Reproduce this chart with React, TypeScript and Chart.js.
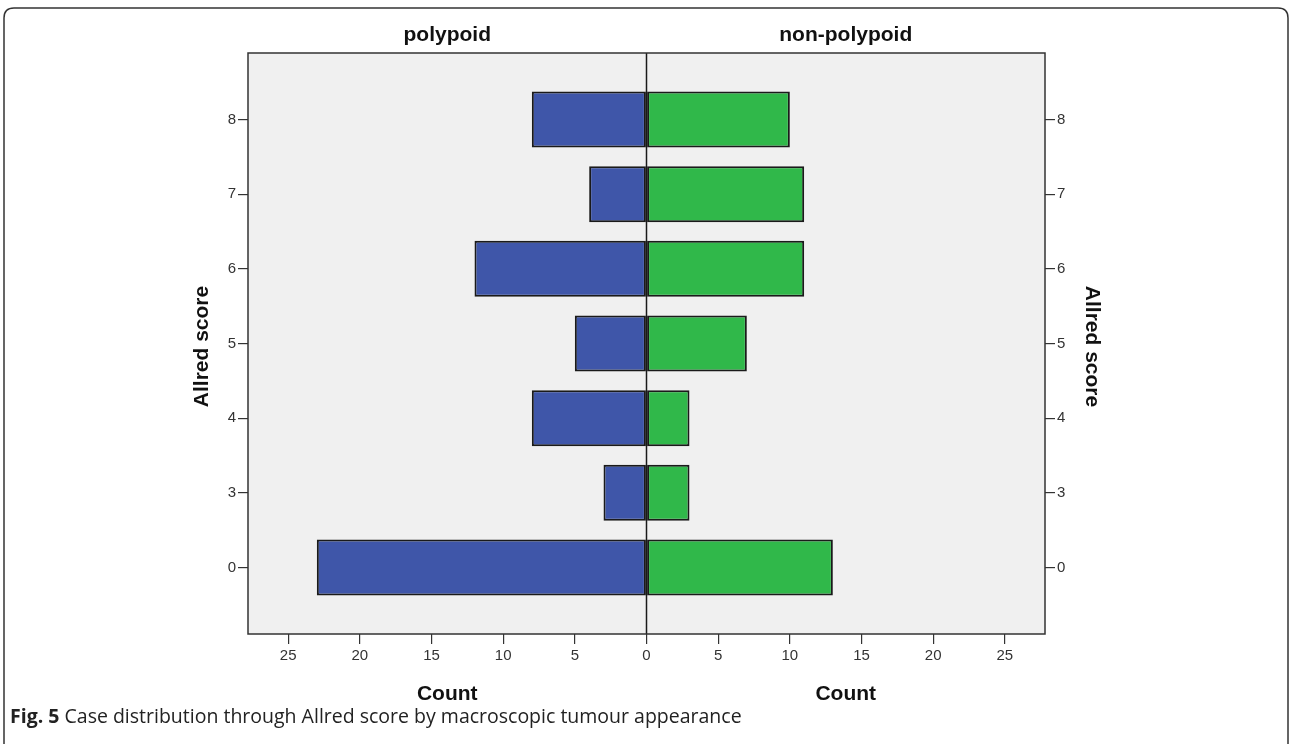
import React, { useEffect, useRef } from "react";
import { Chart, registerables } from "chart.js";

Chart.register(...registerables);

const categories = ["0", "3", "4", "5", "6", "7", "8"];
const polypoid = [23, 3, 8, 5, 12, 4, 8];
const nonPolypoid = [13, 3, 3, 7, 11, 11, 10];
const xTicks = [-25, -20, -15, -10, -5, 0, 5, 10, 15, 20, 25];

const W = 1290;
const H = 744;
const FONT = "'Liberation Sans', Arial, sans-serif";

const decor = {
  id: "decor",
  beforeDraw(chart: any) {
    const { ctx, chartArea: a } = chart;
    ctx.save();
    ctx.fillStyle = "#ffffff";
    ctx.fillRect(0, 0, W, H);
    // rounded frame
    ctx.strokeStyle = "#333333";
    ctx.lineWidth = 1.5;
    const x0 = 4, y0 = 8, x1 = 1288, y1 = 760, r = 10;
    ctx.beginPath();
    ctx.moveTo(x0, y1);
    ctx.lineTo(x0, y0 + r);
    ctx.quadraticCurveTo(x0, y0, x0 + r, y0);
    ctx.lineTo(x1 - r, y0);
    ctx.quadraticCurveTo(x1, y0, x1, y0 + r);
    ctx.lineTo(x1, y1);
    ctx.stroke();
    ctx.fillStyle = "#f0f0f0";
    ctx.fillRect(a.left, a.top, a.right - a.left, a.bottom - a.top);
    ctx.restore();
  },
  afterDatasetsDraw(chart: any) {
    const { ctx, chartArea: a, scales } = chart;
    const cx = scales.x.getPixelForValue(0);
    ctx.save();
    ctx.strokeStyle = "#1a1a1a";
    ctx.lineWidth = 1.5;
    ctx.beginPath();
    ctx.moveTo(cx, a.top);
    ctx.lineTo(cx, a.bottom);
    ctx.stroke();
    ctx.strokeStyle = "#333333";
    ctx.strokeRect(a.left, a.top, a.right - a.left, a.bottom - a.top);
    ctx.restore();
  },
  afterDraw(chart: any) {
    const { ctx, chartArea: a, scales } = chart;
    const cx = scales.x.getPixelForValue(0);
    const midL = (a.left + cx) / 2;
    const midR = (cx + a.right) / 2;
    ctx.save();
    ctx.fillStyle = "#111111";
    ctx.font = `bold 21px ${FONT}`;
    ctx.textAlign = "center";
    ctx.textBaseline = "alphabetic";
    ctx.fillText("polypoid", midL, 41);
    ctx.fillText("non-polypoid", midR, 41);
    ctx.fillText("Count", midL, 700);
    ctx.fillText("Count", midR, 700);
    const yc = (a.top + a.bottom) / 2 + 3;
    ctx.textBaseline = "middle";
    ctx.save();
    ctx.translate(202, yc);
    ctx.rotate(-Math.PI / 2);
    ctx.fillText("Allred score", 0, 0);
    ctx.restore();
    ctx.save();
    ctx.translate(1092, yc);
    ctx.rotate(Math.PI / 2);
    ctx.fillText("Allred score", 0, 0);
    ctx.restore();
    // caption
    ctx.textAlign = "left";
    ctx.textBaseline = "alphabetic";
    ctx.fillStyle = "#222222";
    ctx.font = "bold 19.5px 'Open Sans', sans-serif";
    const fig = "Fig. 5";
    ctx.fillText(fig, 10, 723);
    const fw = ctx.measureText(fig + " ").width;
    ctx.font = "19.5px 'Open Sans', sans-serif";
    ctx.fillText("Case distribution through Allred score by macroscopic tumour appearance", 10 + fw, 723);
    ctx.restore();
  },
};

export default function App() {
  const ref = useRef<HTMLCanvasElement | null>(null);
  useEffect(() => {
    if (!ref.current) return;
    const yTickCb = (v: any) => {
      const i = Math.round(Number(v));
      return Math.abs(Number(v) - i) < 1e-6 && categories[i] !== undefined ? categories[i] : "";
    };
    const yScale = (pos: string, width: number) => ({
      type: "linear" as const,
      position: pos,
      min: -0.89,
      max: 6.89,
      offset: false,
      afterBuildTicks: (s: any) => {
        s.ticks = categories.map((_, i) => ({ value: i }));
      },
      afterFit: (s: any) => {
        s.width = width;
      },
      border: { display: false },
      grid: { offset: false, drawOnChartArea: false, drawTicks: true, tickLength: 10, color: "#333333", lineWidth: 1.2 },
      ticks: {
        callback: yTickCb,
        color: "#333333",
        padding: 2,
        font: { family: FONT, size: 15 },
      },
    });
    const chart = new Chart(ref.current, {
      type: "bar",
      data: {
        datasets: [
          {
            label: "polypoid",
            data: polypoid.map((v, i) => ({ x: -v, y: i })),
            backgroundColor: "#3f56a9",
            borderColor: "#1a1a1a",
            borderWidth: 2,
            borderSkipped: false,
          },
          {
            label: "non-polypoid",
            data: nonPolypoid.map((v, i) => ({ x: v, y: i })),
            backgroundColor: "#30b84a",
            borderColor: "#1a1a1a",
            borderWidth: 2,
            borderSkipped: false,
          },
        ],
      },
      options: {
        indexAxis: "y",
        animation: false,
        responsive: false,
        grouped: false,
        categoryPercentage: 1,
        barPercentage: 0.75,
        layout: { padding: { top: 53, left: 0, right: 0, bottom: 0 } },
        plugins: { legend: { display: false }, tooltip: { enabled: false } },
        scales: {
          x: {
            type: "linear",
            min: -27.8,
            max: 27.8,
            afterBuildTicks: (s: any) => {
              s.ticks = xTicks.map((v) => ({ value: v }));
            },
            afterFit: (s: any) => {
              s.height = 110;
            },
            border: { display: false },
            grid: { drawOnChartArea: false, drawTicks: true, tickLength: 10, color: "#333333", lineWidth: 1.2 },
            ticks: {
              callback: (v: any) => String(Math.abs(Number(v))),
              color: "#333333",
              padding: 3,
              maxRotation: 0,
              autoSkip: false,
              font: { family: FONT, size: 15 },
            },
          },
          y: yScale("left", 248) as any,
          y2: yScale("right", 245) as any,
        },
      } as any,
      plugins: [decor],
    });
    return () => chart.destroy();
  }, []);
  return (
    <div style={{ position: "fixed", left: 0, top: 0, width: W, height: H, background: "#fff" }}>
      <canvas ref={ref} width={W} height={H} style={{ width: W, height: H, display: "block" }} />
    </div>
  );
}
